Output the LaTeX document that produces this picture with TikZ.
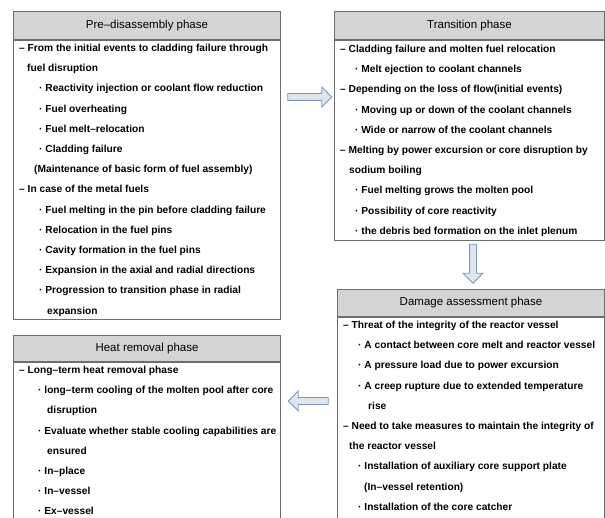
\documentclass[tikz,border=0pt]{standalone}
\usepackage{fontspec}
\setmainfont{Liberation Sans}
\usetikzlibrary{positioning,shapes.arrows}
\definecolor{boxgray}{HTML}{6E6E6E}
\definecolor{headgray}{HTML}{D4D4D4}
\definecolor{arrowline}{HTML}{7C98C0}
\definecolor{arrowfill}{HTML}{DFE5EE}
\tikzset{
    phase head/.style={draw=boxgray, fill=headgray, line width=1pt,
        inner sep=0pt, font=\fontsize{11.5}{13}\selectfont},
    phase body/.style={draw=boxgray, line width=1pt, inner sep=0pt},
    phase text/.style={anchor=north west, align=left, inner sep=0pt,
        font=\bfseries\fontsize{10.2}{20.2}\selectfont},
    flow arrow/.style={single arrow, draw=arrowline, fill=arrowfill,
        line width=.8pt, inner sep=3pt, single arrow head extend=6.5pt,
        single arrow head indent=0pt}
}
\newcommand{\phin}[1]{\hspace*{#1pt}}

\begin{document}
\begin{tikzpicture}[x=1pt,y=-1pt]
    \useasboundingbox (0,0) rectangle (605,518);
    % pre-disassembly
    \node[phase head, minimum width=267pt, minimum height=28pt, anchor=north west]
        (pre-h) at (13,11) {Pre--disassembly phase};
    \node[phase body, minimum width=267pt, minimum height=279pt, below=0pt of pre-h]
        (pre-b) {};
    \node[phase text] (pre-t) at ([xshift=6pt,yshift=-4pt]pre-b.north west)
        {– From the initial events to cladding failure through\\
         \phin{8}fuel disruption\\
         \phin{20}· Reactivity injection or coolant flow reduction\\
         \phin{20}· Fuel overheating\\
         \phin{20}· Fuel melt–relocation\\
         \phin{20}· Cladding failure\\
         \phin{15}(Maintenance of basic form of fuel assembly)\\
         – In case of the metal fuels\\
         \phin{20}· Fuel melting in the pin before cladding failure\\
         \phin{20}· Relocation in the fuel pins\\
         \phin{20}· Cavity formation in the fuel pins\\
         \phin{20}· Expansion in the axial and radial directions\\
         \phin{20}· Progression to transition phase in radial\\
         \phin{28}expansion};
    % transition
    \node[phase head, minimum width=270pt, minimum height=28pt, anchor=north west]
        (tra-h) at (334,11) {Transition phase};
    \node[phase body, minimum width=270pt, minimum height=200pt, below=0pt of tra-h]
        (tra-b) {};
    \node[phase text] (tra-t) at ([xshift=6pt,yshift=-5pt]tra-b.north west)
        {– Cladding failure and molten fuel relocation\\
         \phin{15}· Melt ejection to coolant channels\\
         – Depending on the loss of flow(initial events)\\
         \phin{15}· Moving up or down of the coolant channels\\
         \phin{15}· Wide or narrow of the coolant channels\\
         – Melting by power excursion or core disruption by\\
         \phin{9}sodium boiling\\
         \phin{15}· Fuel melting grows the molten pool\\
         \phin{15}· Possibility of core reactivity\\
         \phin{15}· the debris bed formation on the inlet plenum};
    % damage assessment
    \node[phase head, minimum width=267pt, minimum height=27pt, anchor=north west]
        (dam-h) at (337,289) {Damage assessment phase};
    \node[phase body, minimum width=267pt, minimum height=220pt, below=0pt of dam-h]
        (dam-b) {};
    \node[phase text] (dam-t) at ([xshift=6pt,yshift=-4pt]dam-b.north west)
        {– Threat of the integrity of the reactor vessel\\
         \phin{15}· A contact between core melt and reactor vessel\\
         \phin{15}· A pressure load due to power excursion\\
         \phin{15}· A creep rupture due to extended temperature\\
         \phin{25}rise\\
         – Need to take measures to maintain the integrity of\\
         \phin{6}the reactor vessel\\
         \phin{15}· Installation of auxiliary core support plate\\
         \phin{21}(In–vessel retention)\\
         \phin{15}· Installation of the core catcher};
    % heat removal
    \node[phase head, minimum width=267pt, minimum height=26pt, anchor=north west]
        (hea-h) at (13,335) {Heat removal phase};
    \node[phase body, minimum width=267pt, minimum height=175pt, below=0pt of hea-h]
        (hea-b) {};
    \node[phase text] (hea-t) at ([xshift=6pt,yshift=-4pt]hea-b.north west)
        {– Long–term heat removal phase\\
         \phin{19}· long–term cooling of the molten pool after core\\
         \phin{28}disruption\\
         \phin{19}· Evaluate whether stable cooling capabilities are\\
         \phin{28}ensured\\
         \phin{19}· In–place\\
         \phin{19}· In–vessel\\
         \phin{19}· Ex–vessel};
    % arrows
    \node[flow arrow, minimum height=44pt] (arr-1) at (308,97) {};
    \node[flow arrow, minimum height=39pt, shape border rotate=270] (arr-2) at (473,262) {};
    \node[flow arrow, minimum height=40pt, shape border rotate=180] (arr-3) at (310,401) {};
\end{tikzpicture}
\end{document}
